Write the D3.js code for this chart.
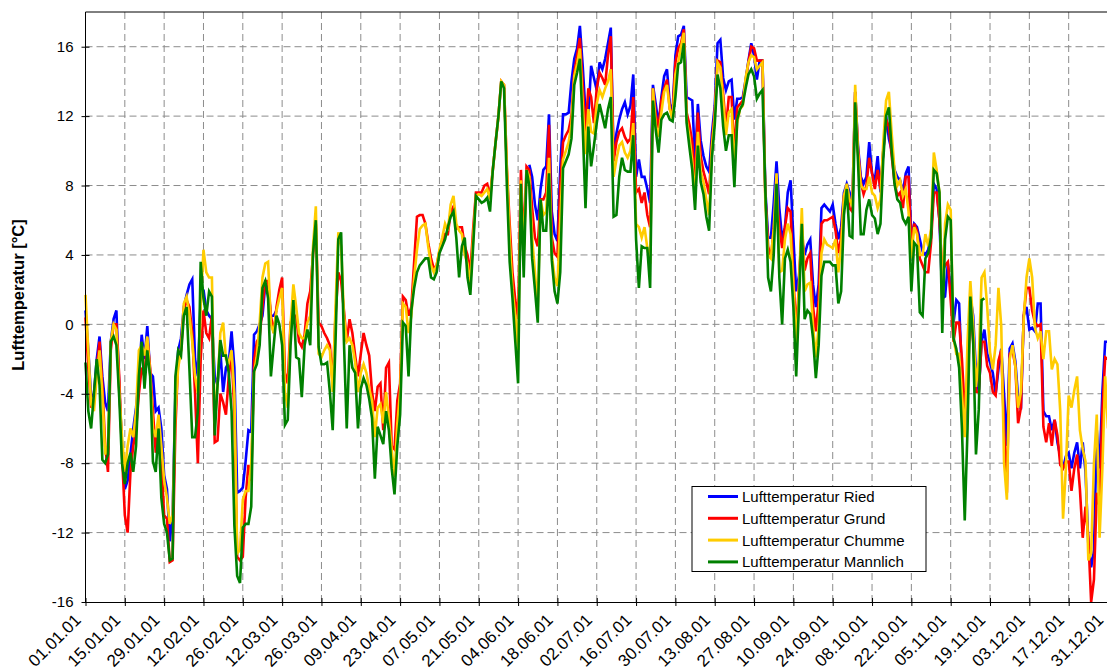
<!DOCTYPE html>
<html>
<head>
<meta charset="utf-8">
<script src="https://cdn.jsdelivr.net/npm/d3@7"></script>
<style>
  body { margin: 0; background: #fff; }
  text { font-family: Arial, "Liberation Sans", sans-serif; }
</style>
</head>
<body>
<div id="chart"></div>
<script>
// daily mean air temperature 2001, one value per day from 01.01.01
var ried = [
  0.8, -1.5, -4.2, -4.0, -2.0, -0.7, -3.0, -4.5, -5.0, -1.0,
  0.3, 0.8, -3.6, -7.0, -9.5, -9.0, -7.5, -6.0, -4.8, -3.0,
  -0.6, -2.0, -0.1, -2.8, -3.0, -5.0, -4.8, -6.0, -8.7, -9.5,
  -12.5, -11.0, -4.0, -1.5, -0.8, 1.0, 1.7, 2.3, 2.6, -2.0,
  -3.0, 1.5, 2.0, 0.8, 0.5, 0.3, -3.0, -3.5, -1.5, -3.9,
  -2.5, -2.2, -0.4, -2.5, -9.7, -9.6, -9.4, -7.9, -6.1, -6.2,
  -0.6, -0.4, 0.0, 0.5, 2.3, 2.1, 0.5, 0.5, 0.8, null,
  null, null, null, null, null, null, null, null, null, null,
  null, null, null, null, null, null, null, null, null, null,
  null, null, null, null, null, null, null, null, null, null,
  null, null, null, null, null, null, null, null, null, null,
  null, null, null, null, null, null, null, null, null, null,
  null, null, null, null, null, null, null, null, null, null,
  null, null, null, null, null, null, null, null, null, null,
  null, null, null, null, null, null, null, null, null, null,
  null, null, null, null, null, null, null, null, 9.2, 8.5,
  6.9, 6.0, 7.8, 8.9, 9.1, 12.1, 6.5, 5.2, 4.8, 8.9,
  12.1, 12.1, 12.2, 14.0, 15.3, 15.9, 17.2, 14.9, 12.2, 12.0,
  14.9, 14.2, 13.5, 15.1, 14.7, 15.3, 16.2, 17.1, 9.6, 11.0,
  11.8, 12.4, 12.8, 12.1, 12.6, 14.4, 8.5, 9.5, 8.5, 8.5,
  7.8, 7.0, 13.8, 12.7, 11.5, 13.1, 14.3, 14.7, 12.7, 12.3,
  15.5, 16.6, 16.7, 17.2, 13.1, 13.0, 12.9, 9.4, 12.7, 10.6,
  9.7, 9.1, 8.8, 11.0, 12.6, 16.2, 16.4, 14.2, 13.5, 14.0,
  14.1, 11.8, 13.0, 13.0, 13.1, 14.1, 15.2, 16.2, 15.5, 14.1,
  15.2, 15.2, 7.8, 5.0, 5.0, 7.0, 9.4, 6.7, 4.9, 5.6,
  7.6, 8.3, 5.0, 1.9, 2.8, 4.9, 4.0, 4.6, 4.9, 2.3,
  1.0, 2.3, 6.7, 6.9, 6.7, 6.5, 6.9, 5.8, 4.9, 5.6,
  7.6, 8.1, 7.6, 7.0, 13.4, 10.3, 8.5, 8.1, 8.5, 10.5,
  8.7, 8.3, 9.7, 7.6, 10.0, 12.0, 10.7, 10.0, 8.9, 8.5,
  8.3, 7.6, 8.7, 9.1, 4.9, 5.8, 5.6, 4.9, 4.2, 4.0,
  4.3, 5.2, 8.1, 7.8, 6.0, 1.5, 1.6, 3.5, 2.1, 0.1,
  1.4, 1.2, -3.0, -6.1, -3.0, 1.6, 0.5, -2.8, -3.9, -1.0,
  -0.3, -1.7, -2.2, -2.8, -4.0, -2.6, -1.4, -4.0, -7.0, -1.4,
  -1.1, -2.1, -4.2, -4.9, 0.5, 1.0, -0.3, -0.2, -0.4, 1.2,
  1.2, -5.0, -5.3, -5.3, -6.1, -5.5, -6.8, -7.6, -8.3, -7.6,
  -7.4, -8.3, -7.4, -6.8, -8.3, -6.8, -8.5, -12.7, -14.0, -13.0,
  -6.1, -8.3, -3.9, -1.0, -1.0
];

var grund = [
  0.4, -2.5, -4.8, -4.2, -2.5, -1.0, -3.5, -7.0, -8.5, -1.5,
  0.0, 0.0, -3.0, -7.5, -11.0, -12.0, -8.5, -7.0, -6.1, -4.0,
  -2.5, -3.0, -0.8, -2.5, -5.0, -7.4, -6.0, -8.0, -11.0, -11.2,
  -13.7, -13.6, -6.0, -2.0, -1.5, 0.8, 1.4, 1.0, -0.5, -4.0,
  -8.0, -2.0, 0.8, -0.5, -0.8, 0.5, -6.8, -6.7, -4.0, -4.5,
  -5.2, -3.0, -1.7, -5.0, -13.4, -13.6, -13.4, -10.0, -8.1, -9.0,
  -2.1, -1.0, -0.7, 1.0, 2.5, 2.5, 0.5, -0.5, 1.0, 2.0,
  2.7, -2.8, -3.4, 0.1, 0.5, 0.5, -1.0, -1.3, -0.6, 1.2,
  1.9, 4.0, 5.8, 0.1, -0.1, -0.5, -0.8, -1.2, -3.4, 0.5,
  3.0, 2.5, 0.8, -1.0, 0.3, -0.5, -1.8, -3.0, -1.7, -0.5,
  -1.2, -1.8, -3.9, -5.0, -3.6, -3.4, -6.1, -2.5, -2.2, -7.0,
  -7.2, -4.4, -3.4, 1.6, 1.4, 0.5, 1.0, 3.6, 6.2, 6.3,
  6.3, 5.8, 4.7, 3.8, 3.2, 3.4, 4.2, 4.6, 5.2, 5.2,
  6.5, 6.8, 5.5, 5.6, 5.6, 4.5, 4.0, 3.0, 5.5, 7.6,
  7.6, 7.6, 8.0, 8.1, 7.4, 8.9, 10.5, 12.0, 14.0, 13.8,
  9.0, 5.8, 3.0, 1.4, 0.3, 8.9, 4.5, 9.1, 8.9, 6.7,
  5.0, 4.5, 7.2, 7.2, 7.6, 11.5, 5.0, 4.1, 3.9, 8.0,
  10.5, 10.9, 11.2, 12.0, 14.5, 15.5, 16.5, 13.8, 11.1, 13.6,
  13.1, 11.6, 13.6, 14.5, 14.2, 13.8, 15.5, 16.6, 9.4, 10.5,
  11.1, 11.3, 10.8, 10.5, 10.7, 13.1, 7.6, 7.8, 7.0, 7.6,
  6.3, 5.6, 13.6, 12.1, 11.3, 12.9, 13.6, 14.1, 12.4, 12.1,
  15.1, 15.9, 16.2, 17.0, 12.2, 11.5, 10.5, 8.1, 12.2, 9.7,
  8.8, 8.2, 7.5, 10.5, 12.2, 15.2, 15.1, 13.3, 11.3, 13.1,
  13.1, 9.9, 12.5, 12.7, 12.9, 14.0, 15.1, 16.0, 15.9, 15.2,
  15.2, 15.2, 7.5, 4.5, 3.8, 5.5, 7.6, 5.6, 4.4, 5.6,
  6.7, 6.5, 2.7, -0.4, 2.3, 5.8, 3.1, 3.8, 4.1, 1.0,
  -0.4, 1.4, 5.8, 6.0, 6.0, 6.1, 6.2, 5.4, 4.1, 5.0,
  7.4, 7.8, 6.7, 6.5, 13.4, 10.1, 8.2, 7.5, 8.0, 9.6,
  8.7, 7.8, 8.9, 7.8, 10.0, 11.8, 11.4, 9.7, 8.2, 7.4,
  7.6, 6.7, 8.5, 8.5, 4.4, 5.8, 5.4, 3.8, 3.4, 3.0,
  3.0, 4.7, 7.6, 7.6, 6.0, 3.0, 3.4, 3.6, 1.4, -1.0,
  0.1, 0.1, -2.0, -5.0, -4.0, 1.4, -1.0, -3.9, -3.9, -1.0,
  -1.0, -2.4, -2.8, -3.9, -4.1, -2.1, -1.5, -6.0, -9.7, -1.7,
  -1.5, -2.4, -5.7, -4.8, 0.5, 2.1, 2.1, 0.8, 0.1, -0.1,
  0.0, -5.9, -6.8, -5.7, -7.0, -5.5, -6.4, -8.1, -8.3, -7.9,
  -7.9, -9.6, -8.3, -7.5, -9.5, -12.3, -10.5, -12.3, -16.0, -14.7,
  -9.7, -10.5, -5.0, -1.9, -2.0
];

var chumme = [
  1.7, -1.5, -4.6, -5.0, -3.0, -1.5, -4.0, -7.5, -7.0, -1.0,
  0.0, -0.3, -3.8, -6.5, -8.5, -7.0, -6.0, -6.5, -5.0, -1.5,
  -1.2, -1.8, -0.7, -2.8, -6.0, -6.5, -5.2, -7.0, -9.0, -10.0,
  -11.5, -11.0, -5.0, -2.5, -1.5, 1.2, 1.6, 0.5, -1.0, -3.0,
  -4.0, 1.0, 4.3, 3.0, 2.7, 2.7, -5.7, -3.5, -0.5, 0.1,
  -2.0, -2.2, -1.5, -4.0, -13.2, -13.0, -10.1, -9.6, -9.6, -8.0,
  -2.8, -1.8, 0.1, 2.7, 3.5, 3.6, 0.0, -0.5, 0.8, 1.5,
  2.1, -3.9, -4.8, 0.0, 2.3, 1.0, -0.5, -0.8, -0.8, 0.1,
  0.5, 4.5, 6.8, -1.7, -1.9, -1.5, -1.2, -1.5, -3.9, 1.0,
  5.3, 4.5, 0.5, -1.0, -0.8, -1.2, -2.2, -3.9, -2.8, -2.3,
  -2.8, -3.7, -4.4, -6.5, -4.8, -4.6, -5.7, -3.9, -5.4, -7.2,
  -8.8, -5.7, -3.9, 1.2, 1.0, -0.5, 0.5, 2.7, 4.3, 5.5,
  5.7, 5.8, 4.5, 3.4, 3.0, 3.4, 4.3, 5.0, 5.8, 5.4,
  6.9, 7.4, 5.8, 5.4, 5.2, 4.0, 3.5, 2.3, 5.0, 7.4,
  7.5, 7.4, 7.6, 7.8, 7.2, 8.9, 10.5, 12.0, 14.0, 13.8,
  9.0, 5.0, 2.0, 0.5, -1.5, 8.3, 3.9, 8.9, 8.5, 5.0,
  3.0, 1.0, 7.2, 6.3, 6.5, 9.6, 4.0, 2.7, 2.2, 6.0,
  9.5, 10.0, 10.5, 11.5, 14.3, 15.0, 15.9, 12.7, 9.8, 12.4,
  11.1, 11.0, 12.7, 13.5, 13.1, 13.6, 14.0, 14.7, 8.5, 9.5,
  10.3, 10.5, 9.9, 9.6, 10.0, 11.6, 5.8, 5.6, 5.0, 5.6,
  4.4, 3.5, 13.6, 11.5, 10.8, 12.2, 13.4, 13.8, 12.4, 11.8,
  14.4, 15.1, 16.0, 16.8, 11.8, 10.8, 9.4, 7.2, 11.1, 8.8,
  8.2, 7.2, 6.3, 10.2, 12.0, 15.1, 14.8, 12.9, 10.9, 12.2,
  12.4, 9.0, 11.6, 12.4, 12.6, 14.2, 15.1, 15.5, 15.4, 14.7,
  14.9, 15.1, 7.2, 4.0, 3.8, 5.5, 8.7, 3.0, 3.1, 4.9,
  5.8, 5.2, 2.3, -1.5, 2.3, 6.7, 1.9, 2.3, 2.4, -0.1,
  -1.9, -0.1, 4.1, 4.9, 4.6, 4.5, 4.4, 4.9, 3.0, 4.5,
  7.4, 8.1, 7.2, 6.8, 13.8, 9.9, 8.0, 7.8, 7.8, 8.5,
  7.6, 7.4, 6.7, 7.2, 10.5, 12.9, 13.4, 11.0, 8.9, 8.0,
  8.3, 7.4, 7.8, 6.5, 3.8, 5.6, 5.2, 4.0, 4.0, 5.2,
  4.5, 5.5, 9.9, 8.9, 7.6, 1.0, 5.8, 6.9, 6.6, -0.8,
  -1.7, -1.7, -4.0, -6.5, -1.0, 2.5, 0.0, -3.6, -2.0, 2.7,
  3.0, 1.0, -1.6, -2.6, -1.2, 2.1, -0.1, -8.0, -10.1, -2.0,
  -1.2, -2.4, -4.8, -3.9, 0.3, 2.7, 3.8, 2.7, -0.2, -0.8,
  -0.4, -2.0, -0.4, -0.4, -2.6, -2.0, -2.3, -5.0, -11.2, -8.3,
  -4.1, -4.8, -3.8, -3.0, -6.1, -7.2, -7.9, -13.6, -13.2, -8.0,
  -5.2, -12.3, -8.3, -3.0, -6.0
];

var mannlich = [
  -2.2, -5.0, -6.0, -4.0, -2.0, -3.5, -7.8, -8.0, -7.5, -1.0,
  -0.7, -1.2, -4.2, -8.0, -9.2, -8.0, -7.4, -8.5, -7.0, -3.0,
  -1.0, -3.7, -1.5, -3.0, -7.9, -8.5, -6.0, -10.0, -11.5, -12.0,
  -13.6, -13.5, -3.0, -1.5, -1.8, 0.5, 1.0, -2.6, -6.5, -6.5,
  -5.0, 3.6, 1.5, 0.5, 1.9, 1.6, -6.4, -3.5, -0.9, -1.8,
  -1.8, -2.8, -5.0, -11.6, -14.5, -14.9, -11.7, -11.5, -11.5, -10.5,
  -2.7, -2.3, -1.2, 2.1, 2.5, 1.5, -3.0, -1.2, 0.5, 0.0,
  -1.2, -5.8, -5.5, -1.2, 1.4, -1.9, -2.0, -4.2, -1.2, -0.3,
  -1.2, 4.1, 6.0, -1.3, -2.3, -2.3, -2.2, -3.9, -6.1, -1.0,
  4.9, 5.3, -1.0, -6.0, -1.2, -2.5, -2.8, -6.0, -3.7, -3.1,
  -3.5, -4.3, -5.4, -8.9, -5.9, -6.4, -6.9, -5.0, -6.1, -8.3,
  -9.8, -7.0, -5.2, 0.1, -0.1, -3.0, 0.8, 2.1, 3.0, 3.4,
  3.6, 3.8, 3.8, 2.7, 2.6, 3.0, 4.1, 4.5, 4.9, 5.6,
  6.2, 6.5, 5.0, 2.7, 4.5, 5.0, 2.7, 1.7, 4.5, 7.4,
  7.2, 7.0, 7.1, 7.3, 6.5, 8.9, 10.5, 12.0, 14.0, 13.6,
  8.0, 3.6, 1.5, -1.0, -3.4, 8.1, 2.7, 8.9, 8.0, 3.8,
  2.0, 0.1, 7.2, 5.4, 5.4, 8.7, 3.7, 1.9, 1.2, 3.0,
  9.0, 9.4, 9.8, 10.7, 13.8, 14.5, 15.3, 11.4, 6.7, 11.4,
  9.1, 10.3, 11.6, 12.7, 12.0, 11.3, 12.4, 13.1, 6.2, 6.3,
  8.5, 9.6, 8.9, 8.8, 8.8, 10.9, 4.9, 2.1, 4.5, 4.4,
  4.4, 2.1, 12.9, 11.2, 9.9, 11.8, 12.1, 12.2, 11.8, 11.7,
  13.1, 15.0, 15.1, 16.2, 11.6, 10.2, 8.9, 6.6, 10.3, 8.2,
  7.5, 6.2, 5.4, 9.6, 11.5, 14.4, 13.6, 11.4, 10.0, 10.9,
  10.9, 7.9, 11.8, 12.4, 12.7, 13.6, 14.4, 14.7, 14.3, 13.0,
  13.3, 13.5, 7.8, 2.7, 1.9, 4.0, 8.1, 2.7, 0.0, 3.8,
  4.3, 3.6, 1.0, -3.0, 1.2, 5.8, 0.3, 0.8, 0.6, -0.8,
  -3.1, -1.2, 2.8, 3.6, 3.6, 3.6, 3.4, 3.4, 1.2, 1.9,
  6.3, 7.8, 5.1, 5.0, 12.8, 9.4, 5.2, 5.2, 6.6, 7.2,
  6.3, 6.1, 5.2, 5.8, 9.5, 12.0, 12.5, 10.0, 8.1, 7.2,
  7.0, 6.1, 5.8, 6.2, 1.9, 4.7, 4.5, 0.7, 0.5, 3.8,
  4.1, 5.0, 8.9, 8.7, 7.6, -0.5, 4.9, 6.2, 6.0, -0.8,
  -1.4, -2.5, -6.0, -11.3, -6.0, 1.6, -1.0, -7.5, -4.9, 1.4,
  1.5, null, null, null, null, null, null, null, null, null,
  null, null, null, null, null, null, null, null, null, null,
  null, null, null, null, null, null, null, null, null, null,
  null, null, null, null, null, null, null, null, null, null,
  null, null, null, null, null
];

var seriesNames = ["Lufttemperatur Ried", "Lufttemperatur Grund", "Lufttemperatur Chumme", "Lufttemperatur Mannlich"];
var color = ["#0000ff", "#ff0000", "#ffcc00", "#008000"];
var yTicks = [-16, -12, -8, -4, 0, 4, 8, 12, 16];
var xTickLabels = ["01.01.01", "15.01.01", "29.01.01", "12.02.01", "26.02.01", "12.03.01", "26.03.01",
  "09.04.01", "23.04.01", "07.05.01", "21.05.01", "04.06.01", "18.06.01", "02.07.01", "16.07.01",
  "30.07.01", "13.08.01", "27.08.01", "10.09.01", "24.09.01", "08.10.01", "22.10.01", "05.11.01",
  "19.11.01", "03.12.01", "17.12.01", "31.12.01"];

// plot area
var width = 1107, height = 670;
var plot = {left: 85.5, right: 1108, top: 12, bottom: 602};

var svg = d3.select("#chart")
  .append("svg")
    .attr("width", width)
    .attr("height", height);

svg.append("rect").attr("width", width).attr("height", height).attr("fill", "#fff");

var parseDay = d3.timeParse("%d.%m.%y");
var startDate = parseDay(xTickLabels[0]);
var tickDates = xTickLabels.map(parseDay);

var x = d3.scaleTime()
  .domain([startDate, tickDates[tickDates.length - 1]])
  .range([plot.left, plot.right]);

var y = d3.scaleLinear()
  .domain([-16, 18])
  .range([plot.bottom, plot.top]);

// dashed grid
svg.append("g")
  .selectAll("line")
  .data(yTicks.slice(1))
  .enter()
  .append("line")
    .attr("x1", plot.left).attr("x2", plot.right)
    .attr("y1", function(d) { return y(d); })
    .attr("y2", function(d) { return y(d); })
    .attr("stroke", "#8c8c8c")
    .attr("stroke-dasharray", "7,4");

svg.append("g")
  .selectAll("line")
  .data(tickDates.slice(1))
  .enter()
  .append("line")
    .attr("x1", function(d) { return x(d); })
    .attr("x2", function(d) { return x(d); })
    .attr("y1", plot.top).attr("y2", plot.bottom)
    .attr("stroke", "#8c8c8c")
    .attr("stroke-dasharray", "7,4");

// top frame
svg.append("line")
  .attr("x1", plot.left).attr("x2", plot.right)
  .attr("y1", plot.top).attr("y2", plot.top)
  .attr("stroke", "#000");

// lines
var line = d3.line()
  .defined(function(d) { return d.v !== null; })
  .x(function(d) { return x(d.date); })
  .y(function(d) { return y(d.v); });

var allSeries = [ried, grund, chumme, mannlich];
allSeries.forEach(function(values, k) {
  var pts = values.map(function(v, i) {
    return {date: d3.timeDay.offset(startDate, i), v: v};
  });
  svg.append("path")
    .datum(pts)
    .attr("fill", "none")
    .attr("stroke", color[k])
    .attr("stroke-width", 2.6)
    .attr("d", line);
});

// Y axis (plain hyphen for negatives, like the original)
var yAxis = svg.append("g")
  .attr("transform", "translate(" + plot.left + ",0)")
  .call(d3.axisLeft(y).tickValues(yTicks).tickSizeOuter(0).tickSize(4)
    .tickFormat(function(d) { return String(d); }));
yAxis.select(".domain").attr("stroke", "#000").attr("d", "M0," + plot.top + "V" + plot.bottom);
yAxis.selectAll(".tick line").attr("x1", -4).attr("x2", 4).attr("stroke", "#000");
yAxis.selectAll(".tick text")
  .attr("x", -12)
  .style("font-size", "15px")
  .style("font-family", "Arial, 'Liberation Sans', sans-serif")
  .attr("fill", "#000");

// X axis
var xAxis = svg.append("g")
  .attr("transform", "translate(0," + plot.bottom + ")")
  .call(d3.axisBottom(x).tickValues(tickDates).tickSizeOuter(0).tickFormat(d3.timeFormat("%d.%m.%y")));
xAxis.select(".domain").attr("stroke", "#000");
xAxis.selectAll(".tick line").attr("y1", -4).attr("y2", 4).attr("stroke", "#000");
xAxis.selectAll(".tick text")
  .attr("y", 0).attr("dy", 0)
  .attr("text-anchor", "end")
  .attr("transform", "translate(-4,19) rotate(-45)")
  .style("font-size", "17px")
  .style("font-family", "Arial, 'Liberation Sans', sans-serif")
  .attr("fill", "#000");

// axis title
svg.append("text")
  .attr("transform", "translate(24,295) rotate(-90)")
  .attr("text-anchor", "middle")
  .style("font-size", "16.5px")
  .style("font-weight", "bold")
  .text("Lufttemperatur [°C]");

// legend
var legend = svg.append("g").attr("transform", "translate(692,486.5)");
legend.append("rect")
  .attr("width", 234).attr("height", 85)
  .attr("fill", "#fff").attr("stroke", "#000");
for (var i = 0; i < 4; i++) {
  legend.append("line")
    .attr("x1", 16).attr("x2", 46)
    .attr("y1", 10 + i * 21.8).attr("y2", 10 + i * 21.8)
    .attr("stroke", color[i]).attr("stroke-width", 3);
  legend.append("text")
    .attr("x", 50).attr("y", 10 + i * 21.8 + 5.5)
    .style("font-size", "15px")
    .text(seriesNames[i]);
}
</script>
</body>
</html>
